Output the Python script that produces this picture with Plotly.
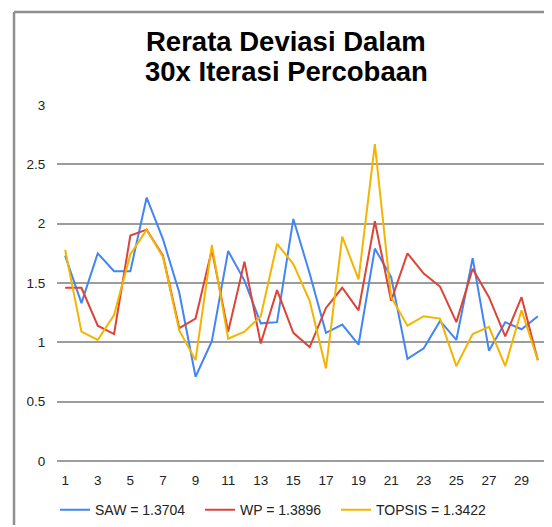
import plotly.graph_objects as go

iterations = list(range(1, 31))
saw = [1.73, 1.33, 1.75, 1.60, 1.60, 2.22, 1.87, 1.42, 0.71, 1.01,
       1.77, 1.52, 1.16, 1.17, 2.04, 1.58, 1.08, 1.15, 0.98, 1.79,
       1.55, 0.86, 0.95, 1.18, 1.02, 1.71, 0.93, 1.17, 1.11, 1.22]
wp = [1.46, 1.46, 1.14, 1.07, 1.90, 1.95, 1.73, 1.12, 1.20, 1.78,
      1.09, 1.68, 0.99, 1.44, 1.08, 0.96, 1.29, 1.46, 1.27, 2.02,
      1.35, 1.75, 1.58, 1.47, 1.17, 1.62, 1.38, 1.05, 1.38, 0.85]
topsis = [1.78, 1.09, 1.02, 1.23, 1.74, 1.95, 1.72, 1.10, 0.85, 1.82,
          1.03, 1.09, 1.22, 1.83, 1.66, 1.35, 0.78, 1.89, 1.53, 2.67,
          1.38, 1.14, 1.22, 1.20, 0.80, 1.07, 1.13, 0.80, 1.27, 0.85]
series_names = ["SAW = 1.3704", "WP = 1.3896", "TOPSIS = 1.3422"]
colors = ["#4285F4", "#DB4437", "#F4B400"]
x_ticks = list(range(1, 30, 2))
y_ticks = [0, 0.5, 1, 1.5, 2, 2.5, 3]
y_labels = ["0", "0.5", "1", "1.5", "2", "2.5", "3"]
title_lines = ["Rerata Deviasi Dalam", "30x Iterasi Percobaan"]

font = "Liberation Sans, Arial, sans-serif"
legend_ids = ["legend", "legend2", "legend3"]
legend_x = [-0.0041, 0.2924, 0.5706]

fig = go.Figure()
for name, vals, c, lg in zip(series_names, [saw, wp, topsis], colors, legend_ids):
    fig.add_trace(go.Scatter(x=iterations, y=vals, mode="lines", name=name,
                             line=dict(color=c, width=2), legend=lg))

legend_style = dict(orientation="h", xanchor="left", y=-0.138, yanchor="middle",
                    font=dict(family=font, size=14, color="#222"), itemwidth=30,
                    bgcolor="rgba(0,0,0,0)")
fig.update_layout(
    width=544, height=519,
    margin=dict(l=49, r=6, t=97, b=66, autoexpand=False),
    paper_bgcolor="white", plot_bgcolor="white",
    font=dict(family=font, size=13, color="#222"),
    showlegend=True,
    legend=dict(x=legend_x[0], **legend_style),
    legend2=dict(x=legend_x[1], **legend_style),
    legend3=dict(x=legend_x[2], **legend_style),
    xaxis=dict(range=[0.5, 30.5], tickmode="array", tickvals=x_ticks,
               showgrid=False, zeroline=False, showline=False,
               ticks="outside", ticklen=7, tickcolor="rgba(0,0,0,0)",
               tickfont=dict(size=13.5)),
    yaxis=dict(range=[0, 3], tickmode="array", tickvals=y_ticks, ticktext=y_labels,
               showgrid=True, gridcolor="#9c9c9c", gridwidth=1.5,
               zeroline=True, zerolinecolor="#9c9c9c", zerolinewidth=1.5,
               showline=False, ticks="outside", ticklen=8, tickcolor="rgba(0,0,0,0)",
               tickfont=dict(size=13.5)),
)
for txt, yp in zip(title_lines, [1.177, 1.0955]):
    fig.add_annotation(text="<b>" + txt + "</b>", xref="paper", yref="paper",
                       x=0.469, y=yp, xanchor="center", yanchor="middle",
                       showarrow=False,
                       font=dict(family=font, size=27.5, color="black"))
# outer chart frame (only its left and top edges fall inside the picture)
fig.add_shape(type="line", xref="paper", yref="paper", layer="above",
              x0=-0.0879, x1=-0.0879, y0=-0.18, y1=1.2612,
              line=dict(color="#8f8f8f", width=2.5))
fig.add_shape(type="line", xref="paper", yref="paper", layer="above",
              x0=-0.0879, x1=1.0, y0=1.2612, y1=1.2612,
              line=dict(color="#8f8f8f", width=2.5))

fig.write_html("out.html")
